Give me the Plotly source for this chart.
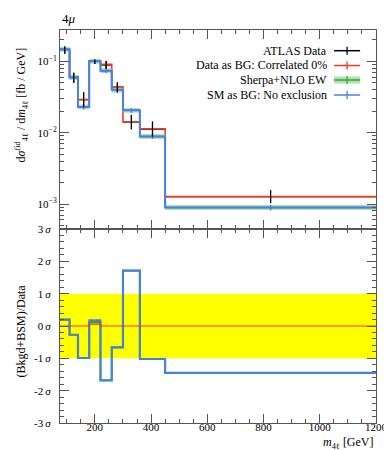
import plotly.graph_objects as go

# ---------------- data ----------------
bin_edges = [76, 110, 140, 180, 220, 260, 300, 360, 450, 1200]

data_vals = [0.144, 0.059, 0.029, 0.099, 0.0887, 0.043, 0.0141, 0.0112, 0.00127]
data_err_up = [0.0183, 0.0103, 0.0080, 0.0075, 0.0122, 0.0075, 0.00365, 0.0031, 0.00029]
data_err_dn = [0.0163, 0.0088, 0.0063, 0.0070, 0.0107, 0.0064, 0.0029, 0.00242, 0.00024]

bg_data_vals = [0.144, 0.0615, 0.0292, 0.100, 0.0907, 0.0439, 0.0141, 0.01138, 0.00127]

sherpa_vals = [0.148, 0.0595, 0.0230, 0.101, 0.074, 0.0399, 0.0206, 0.00887, 0.000897]
sherpa_lo = [0.136, 0.0547, 0.0212, 0.093, 0.068, 0.0367, 0.0190, 0.00816, 0.000825]
sherpa_hi = [0.160, 0.0643, 0.0248, 0.109, 0.080, 0.0431, 0.0222, 0.00958, 0.000969]

sm_vals = [0.148, 0.0595, 0.0230, 0.101, 0.074, 0.0399, 0.0206, 0.00887, 0.000897]
sm_err = [0.010, 0.004, 0.0018, 0.006, 0.005, 0.0028, 0.0015, 0.0007, 0.00008]

pull_bg_data = [0.0, 0.0, 0.0, 0.06, 0.0, 0.0, 0.0, 0.0, 0.0]
pull_sherpa = [0.2, -0.27, -0.99, 0.12, -1.68, -0.66, 1.71, -1.02, -1.45]
pull_sm = [0.2, -0.27, -0.99, 0.18, -1.68, -0.66, 1.71, -1.02, -1.45]

x_ticks = [200, 400, 600, 800, 1000, 1200]
y_log_ticks = [0.001, 0.01, 0.1]
y_log_text = ["10<sup>−3</sup>", "10<sup>−2</sup>", "10<sup>−1</sup>"]
sig_ticks = [-3, -2, -1, 0, 1, 2, 3]
sig_text = ["-3\u2009<i>σ</i>", "-2\u2009<i>σ</i>", "-1\u2009<i>σ</i>", "0\u2009<i>σ</i>",
            "1\u2009<i>σ</i>", "2\u2009<i>σ</i>", "3\u2009<i>σ</i>"]

# ---------------- helpers ----------------
centers = [(a + b) / 2 for a, b in zip(bin_edges[:-1], bin_edges[1:])]
halfw = [(b - a) / 2 for a, b in zip(bin_edges[:-1], bin_edges[1:])]


def step(vals):
    return bin_edges, list(vals) + [vals[-1]]


FONT = "Liberation Serif"
RED = "#ee3a23"
BLUE = "#4a7df0"
GREEN = "#3aa03a"
GREEN_FILL = "rgba(150,215,150,0.75)"
AX = "#555555"

W, H = 392, 450
L, R, T, B = 52, 12, 22, 35
split_px = 221
plot_h = H - T - B
split = (H - B - split_px) / plot_h

fig = go.Figure()

# ---------- upper panel ----------
fig.add_trace(go.Scatter(
    x=centers, y=data_vals, mode="markers", xaxis="x2", yaxis="y2",
    marker=dict(size=1, color="black"),
    error_x=dict(type="data", array=halfw, color="black", thickness=1.2, width=0),
    error_y=dict(type="data", array=data_err_up, arrayminus=data_err_dn,
                 color="black", thickness=1.2, width=0),
    showlegend=False, hoverinfo="skip"))

sx, sy = step(bg_data_vals)
fig.add_trace(go.Scatter(x=sx, y=sy, mode="lines", line=dict(shape="hv", color=RED, width=1.6),
                         xaxis="x2", yaxis="y2", showlegend=False, hoverinfo="skip"))

sx, sy = step(sherpa_lo)
fig.add_trace(go.Scatter(x=sx, y=sy, mode="lines", line=dict(shape="hv", width=0),
                         xaxis="x2", yaxis="y2", showlegend=False, hoverinfo="skip"))
sx, sy = step(sherpa_hi)
fig.add_trace(go.Scatter(x=sx, y=sy, mode="lines", line=dict(shape="hv", width=0),
                         fill="tonexty", fillcolor=GREEN_FILL,
                         xaxis="x2", yaxis="y2", showlegend=False, hoverinfo="skip"))
sx, sy = step(sherpa_vals)
fig.add_trace(go.Scatter(x=sx, y=sy, mode="lines", line=dict(shape="hv", color=GREEN, width=1.5),
                         xaxis="x2", yaxis="y2", showlegend=False, hoverinfo="skip"))

sx, sy = step(sm_vals)
fig.add_trace(go.Scatter(x=sx, y=sy, mode="lines", line=dict(shape="hv", color=BLUE, width=2),
                         xaxis="x2", yaxis="y2", showlegend=False, hoverinfo="skip"))
fig.add_trace(go.Scatter(
    x=centers, y=sm_vals, mode="markers", xaxis="x2", yaxis="y2",
    marker=dict(size=1, color=BLUE),
    error_y=dict(type="data", array=sm_err, color=BLUE, thickness=1.5, width=0),
    showlegend=False, hoverinfo="skip"))

fig.add_trace(go.Scatter(
    x=centers, y=data_vals, mode="markers", xaxis="x2", yaxis="y2",
    marker=dict(size=1, color="black"),
    error_y=dict(type="data", array=data_err_up, arrayminus=data_err_dn,
                 color="black", thickness=1.2, width=0),
    showlegend=False, hoverinfo="skip"))

# ---------- lower panel ----------
sx, sy = step(pull_sherpa)
fig.add_trace(go.Scatter(x=sx, y=sy, mode="lines", line=dict(shape="hv", color=GREEN, width=2.2),
                         xaxis="x", yaxis="y", showlegend=False, hoverinfo="skip"))
sx, sy = step(pull_sm)
fig.add_trace(go.Scatter(x=sx, y=sy, mode="lines",
                         line=dict(shape="hv", color=BLUE, width=1.7),
                         xaxis="x", yaxis="y", showlegend=False, hoverinfo="skip"))
sx, sy = step(pull_bg_data)
fig.add_trace(go.Scatter(x=sx, y=sy, mode="lines", line=dict(shape="hv", color=RED, width=1.2),
                         xaxis="x", yaxis="y", showlegend=False, hoverinfo="skip"))

shapes = [dict(type="rect", xref="x domain", yref="y", x0=0, x1=1, y0=-1, y1=1,
               fillcolor="#ffff00", line=dict(width=0), layer="below")]


def px_x(p):
    return (p - L) / (W - L - R)


def px_y(p):
    return (H - B - p) / plot_h


annotations = []
legend_items = [
    ("ATLAS Data", "black", 42.7, "cross"),
    ("Data as BG: Correlated 0%", RED, 57.5, "cross"),
    ("Sherpa+NLO EW", GREEN, 72.0, "band"),
    ("SM as BG: No exclusion", BLUE, 87.0, "cross"),
]
for text, col, yc, kind in legend_items:
    annotations.append(dict(text=text, xref="paper", yref="paper", x=px_x(331), y=px_y(yc),
                            xanchor="right", yanchor="middle", showarrow=False,
                            font=dict(family=FONT, size=12, color="black")))
    if kind == "band":
        shapes.append(dict(type="rect", xref="paper", yref="paper",
                           x0=px_x(336.5), x1=px_x(363.5), y0=px_y(yc + 3.5), y1=px_y(yc - 3.5),
                           fillcolor=GREEN_FILL, line=dict(width=0)))
    shapes.append(dict(type="line", xref="paper", yref="paper",
                       x0=px_x(336.5), x1=px_x(363.5), y0=px_y(yc), y1=px_y(yc),
                       line=dict(color=col, width=1.5)))
    shapes.append(dict(type="line", xref="paper", yref="paper",
                       x0=px_x(350), x1=px_x(350), y0=px_y(yc - 4), y1=px_y(yc + 4),
                       line=dict(color=col, width=1.3)))

annotations.append(dict(text="4<i>μ</i>", xref="paper", yref="paper", x=0, y=px_y(10.5),
                        xanchor="left", yanchor="middle", showarrow=False,
                        font=dict(family=FONT, size=13, color="black")))
annotations.append(dict(text="d<i>σ</i><sup>fid</sup><sub>4ℓ</sub> / d<i>m</i><sub>4ℓ</sub> [fb / GeV]",
                        xref="paper", yref="paper", x=px_x(12), y=px_y(97),
                        xanchor="center", yanchor="middle", textangle=-90, showarrow=False,
                        font=dict(family=FONT, size=12, color="black")))
annotations.append(dict(text="(Bkgd+BSM)/Data",
                        xref="paper", yref="paper", x=px_x(12), y=px_y(323),
                        xanchor="center", yanchor="middle", textangle=-90, showarrow=False,
                        font=dict(family=FONT, size=12, color="black")))
annotations.append(dict(text="<i>m</i><sub>4ℓ</sub> [GeV]",
                        xref="paper", yref="paper", x=1, y=px_y(435),
                        xanchor="right", yanchor="middle", showarrow=False,
                        font=dict(family=FONT, size=12, color="black")))

x_minor = dict(dtick=50, tick0=0, ticklen=4, ticks="inside", tickcolor=AX, tickwidth=1)
common_x = dict(range=[bin_edges[0], bin_edges[-1]], showline=True, linecolor=AX, linewidth=1,
                mirror="allticks", ticks="inside", ticklen=9, tickcolor=AX, tickwidth=1,
                showgrid=False, zeroline=False, tickvals=x_ticks, minor=x_minor)

log_minor_vals = [m * 10 ** e for e in (-4, -3, -2, -1) for m in range(2, 10)]

fig.update_layout(
    width=W, height=H, margin=dict(l=L, r=R, t=T, b=B),
    paper_bgcolor="white", plot_bgcolor="white",
    font=dict(family=FONT, size=11, color="black"),
    xaxis=dict(anchor="y", domain=[0, 1], ticktext=[str(v) for v in x_ticks],
               tickfont=dict(family=FONT, size=11), ticklabelstandoff=-6, **common_x),
    xaxis2=dict(anchor="y2", domain=[0, 1], matches="x", showticklabels=False, **common_x),
    yaxis=dict(domain=[0, split], range=[-3, 3], anchor="x", showline=True, linecolor=AX,
               mirror="allticks", ticks="inside", ticklen=9, tickcolor=AX,
               tickvals=sig_ticks, ticktext=sig_text, showgrid=False, zeroline=False,
               tickfont=dict(family=FONT, size=11), ticklabelstandoff=6,
               minor=dict(dtick=0.2, tick0=0, ticklen=4, ticks="inside", tickcolor=AX)),
    yaxis2=dict(domain=[split, 1], type="log", range=[-3.35, -0.56], anchor="x2",
                showline=True, linecolor=AX, mirror="allticks", ticks="inside", ticklen=9,
                tickcolor=AX, tickvals=y_log_ticks, ticktext=y_log_text, showgrid=False,
                zeroline=False, tickfont=dict(family=FONT, size=11),
                minor=dict(tickvals=log_minor_vals, ticklen=4, ticks="inside", tickcolor=AX)),
    shapes=shapes, annotations=annotations,
)

fig.write_html("out.html")
